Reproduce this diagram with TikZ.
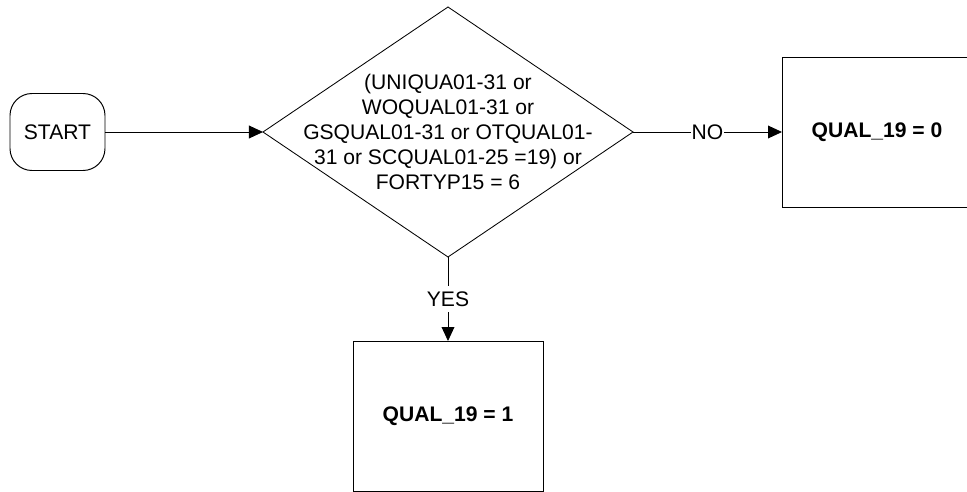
\documentclass[tikz,border=0pt]{standalone}
\usepackage{fontspec}
\setmainfont{Liberation Sans}
\usepackage{tikz}
\usetikzlibrary{shapes.geometric,arrows.meta,positioning}

\begin{document}
\begin{tikzpicture}[
    txt/.style={font=\fontsize{15pt}{17.8pt}\selectfont},
    terminal/.style={draw, txt, rounded corners=0.55cm, minimum width=2.375cm,
      minimum height=1.925cm, outer sep=0pt, line width=0.7pt},
    decision/.style={draw, diamond, minimum width=9.25cm, minimum height=6.25cm,
      inner sep=0pt, outer sep=0pt, line width=0.6pt},
    result/.style={draw, txt, font=\fontsize{15pt}{17.8pt}\selectfont\bfseries,
      minimum width=4.75cm, minimum height=3.75cm, outer sep=0pt, line width=0.7pt},
    flow/.style={-{Triangle[length=0.35cm,width=0.32cm]}, line width=0.6pt},
    lbl/.style={txt, fill=white, inner xsep=0.5pt, inner ysep=4pt}
  ]
  \useasboundingbox (0,0) rectangle (24.175,-12.3);

  % start and test
  \node[terminal] (start) at (1.4375,-3.3) {START};
  \node[decision] (test) at (11.2,-3.3) {};
  \node[txt, align=center] (testtext) at (test.center)
    {(UNIQUA01-31 or\\WOQUAL01-31 or\\GSQUAL01-31 or OTQUAL01-\\31 or SCQUAL01-25 =19) or\\FORTYP15 = 6};

  % outcomes
  \node[result] (no) at (21.925,-3.3) {QUAL\_19 = 0};
  \node[result] (yes) at (11.2,-10.4) {QUAL\_19 = 1};

  % connectors
  \draw[flow] (start) -- (test);
  \draw[flow] (test) -- node[lbl] {NO} (no);
  \draw[flow] (test) -- node[lbl] {YES} (yes);
\end{tikzpicture}
\end{document}
